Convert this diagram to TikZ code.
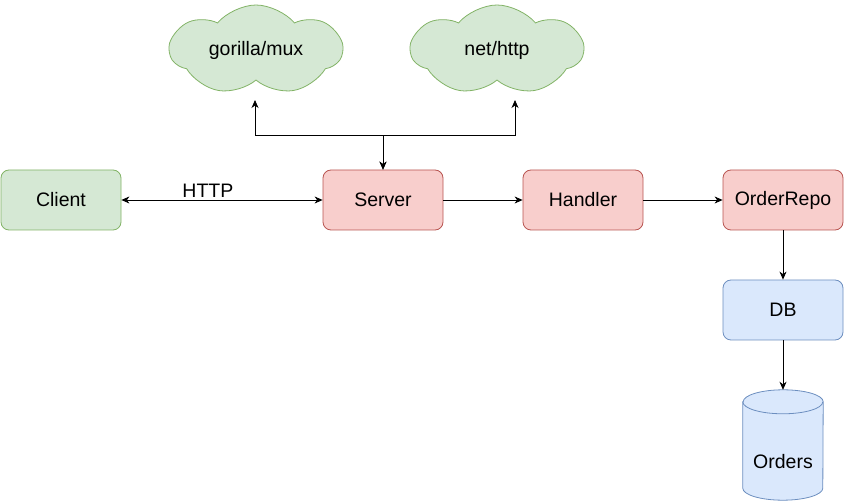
\documentclass[tikz,border=0pt]{standalone}
\usepackage{fontspec}
\setmainfont{Liberation Sans}
\usetikzlibrary{shapes.symbols,arrows.meta}
\definecolor{gfill}{HTML}{D5E8D4}
\definecolor{gline}{HTML}{82B366}
\definecolor{rfill}{HTML}{F8CECC}
\definecolor{rline}{HTML}{B85450}
\definecolor{bfill}{HTML}{DAE8FC}
\definecolor{bline}{HTML}{6C8EBF}
\begin{document}
\begin{tikzpicture}[x=1pt,y=1pt,
  font=\fontsize{19.5}{23}\selectfont,
  box/.style={rectangle, rounded corners=8pt, minimum width=120pt, minimum height=60pt, line width=0.8pt, inner sep=0pt},
  gbox/.style={box, fill=gfill, draw=gline},
  rbox/.style={box, fill=rfill, draw=rline},
  bbox/.style={box, fill=bfill, draw=bline},
  gcloud/.style={cloud, cloud puffs=7, cloud puff arc=100, aspect=2, minimum width=172pt, minimum height=90pt, fill=gfill, draw=gline, line width=0.8pt, inner sep=0pt},
  conn/.style={line width=0.8pt, -{Stealth[length=8pt,width=7pt,inset=2.5pt]}},
  bconn/.style={line width=0.8pt, {Stealth[length=8pt,width=7pt,inset=2.5pt]}-{Stealth[length=8pt,width=7pt,inset=2.5pt]}}
]
\useasboundingbox (0,0) rectangle (844,501);

\node[gbox] (client) at (61,301) {Client};
\node[rbox] (server) at (383,301) {Server};
\node[rbox] (handler) at (583,301) {Handler};
\node[rbox] (repo) at (783,301) {OrderRepo};
\node[bbox] (db) at (783,191) {DB};

\node[gcloud] (mux) at (256,451) {gorilla/mux};
\node[gcloud] (http) at (497,451) {net/http};

% cylinder
\node[minimum width=80pt, minimum height=110pt, inner sep=0pt] (orders) at (783,56) {};
\filldraw[fill=bfill, draw=bline, line width=0.8pt]
  ([yshift=-12pt]orders.north west) -- ([yshift=12pt]orders.south west)
  arc[start angle=180, end angle=360, x radius=40pt, y radius=12pt]
  -- ([yshift=-12pt]orders.north east)
  arc[start angle=0, end angle=180, x radius=40pt, y radius=12pt] -- cycle;
\draw[draw=bline, line width=0.8pt] ([yshift=-12pt]orders.north west)
  arc[start angle=180, end angle=360, x radius=40pt, y radius=12pt];
\node (orderstext) at (783,39) {Orders};

% connectors
\coordinate (junc) at (383,366);
\coordinate (muxtip) at (255,401);
\coordinate (httptip) at (515,401);

\draw[bconn] (client) -- node[pos=0.43, above, inner sep=2pt] {HTTP} (server);
\draw[bconn] (server.north) -- (junc) -| (muxtip);
\draw[bconn] (server.north) -- (junc) -| (httptip);
\draw[conn] (server) -- (handler);
\draw[conn] (handler) -- (repo);
\draw[conn] (repo) -- (db);
\draw[conn] (db) -- (orders.north);
\end{tikzpicture}
\end{document}
